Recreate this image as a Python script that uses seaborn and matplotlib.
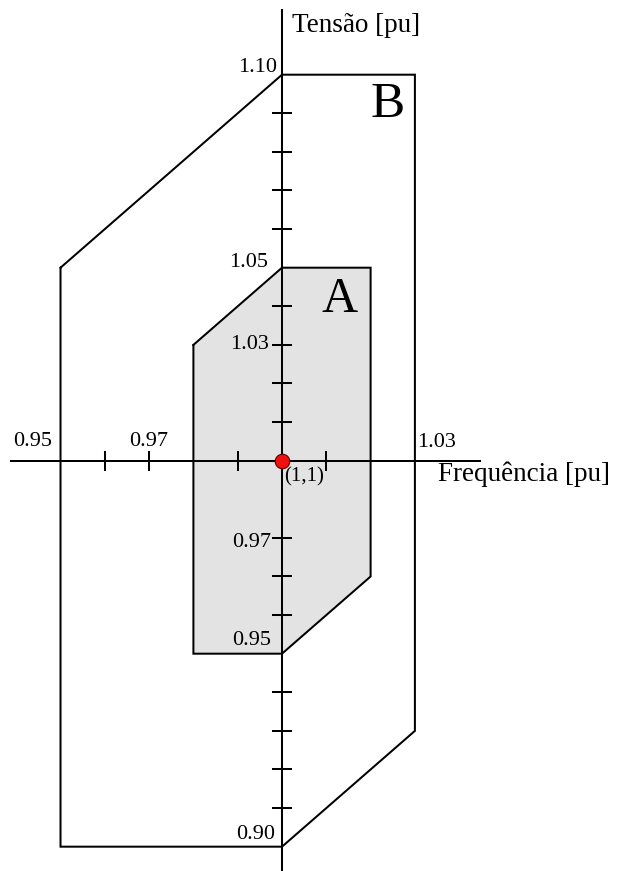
import matplotlib
matplotlib.use("Agg")
import matplotlib.pyplot as plt
import seaborn as sns

# Operating regions in the frequency-voltage plane (per unit)
region_a_freq = [0.98, 1.00, 1.02, 1.02, 1.00, 0.98, 0.98]
region_a_volt = [1.03, 1.05, 1.05, 0.97, 0.95, 0.95, 1.03]
region_b_freq = [0.95, 1.00, 1.03, 1.03, 1.00, 0.95, 0.95]
region_b_volt = [1.05, 1.10, 1.10, 0.93, 0.90, 0.90, 1.05]

# Nominal operating point
nominal_freq = [1.0]
nominal_volt = [1.0]

# Tick marks along each axis
freq_ticks = [0.96, 0.97, 0.99, 1.01]
volt_ticks = [0.91, 0.92, 0.93, 0.94, 0.96, 0.97, 0.98,
              1.01, 1.02, 1.03, 1.04, 1.06, 1.07, 1.08, 1.09]

# Value labels and where they sit
freq_label_text = ["0.95", "0.97", "1.03"]
freq_label_pos = [0.95, 0.97, 1.03]
volt_label_text = ["1.10", "1.05", "1.03", "0.97", "0.95", "0.90"]
volt_label_pos = [1.10, 1.05, 1.03, 0.98, 0.95, 0.90]

sns.set_theme(style="white")
plt.rcParams["font.family"] = ["Liberation Serif", "DejaVu Serif"]

LW = 1.45
fig = plt.figure(figsize=(6.2, 8.71), dpi=100)
ax = fig.add_axes([0, 0, 1, 1])
ax.set_facecolor("white")
ax.set_axisbelow(False)

# Region A (shaded) and region B (outline only)
ax.fill(region_a_freq, region_a_volt, color="#e3e3e3", zorder=0.8, lw=0)
sns.lineplot(x=region_a_freq, y=region_a_volt, sort=False, estimator=None,
             errorbar=None, color="black", lw=LW, ax=ax, zorder=3)
sns.lineplot(x=region_b_freq, y=region_b_volt, sort=False, estimator=None,
             errorbar=None, color="black", lw=LW, ax=ax, zorder=3)
for ln in ax.lines:
    ln.set_solid_joinstyle("miter")

sns.scatterplot(x=nominal_freq, y=nominal_volt, s=110, color="#f01010",
                edgecolor="#5a0000", linewidth=0.8, ax=ax, zorder=6)

ax.set_xlim(0.93634, 1.07630)
ax.set_ylim(0.89370, 1.11935)

# Axes crossing at the nominal point
for side in ("top", "right"):
    ax.spines[side].set_visible(False)
ax.spines["left"].set_position(("data", 1.0))
ax.spines["bottom"].set_position(("data", 1.0))
ax.spines["left"].set_bounds(0.89370, 1.11676)
ax.spines["bottom"].set_bounds(0.93883, 1.04470)
for side in ("left", "bottom"):
    ax.spines[side].set_color("black")
    ax.spines[side].set_linewidth(LW)
    ax.spines[side].set_zorder(2.5)

ax.set_xticks(freq_ticks)
ax.set_yticks(volt_ticks)
ax.tick_params(axis="both", which="major", direction="inout", length=14.4,
               width=LW, color="black", bottom=True, left=True,
               labelbottom=False, labelleft=False)
ax.xaxis.set_zorder(2.4)
ax.yaxis.set_zorder(2.4)
ax.grid(False)

num_size = 16
title_size = 19.5

# Voltage values, left of the vertical axis
volt_offsets = [(-5, 3), (-14, 1), (-13, -4), (-11, -9), (-11, 9), (-7, 8)]
for txt, pos, off in zip(volt_label_text, volt_label_pos, volt_offsets):
    ax.annotate(txt, xy=(1.0, pos), xytext=off, textcoords="offset pixels",
                ha="right", va="baseline", fontsize=num_size, color="black")

# Frequency values, above the horizontal axis
freq_align = ["right", "center", "left"]
freq_offsets = [(-8, 15), (0, 15), (2, 14)]
for txt, pos, ha, off in zip(freq_label_text, freq_label_pos, freq_align, freq_offsets):
    ax.annotate(txt, xy=(pos, 1.0), xytext=off, textcoords="offset pixels",
                ha=ha, va="baseline", fontsize=num_size, color="black")

# Axis titles
ax.annotate("Tensão [pu]", xy=(1.0, 1.11676), xytext=(10, -22),
            textcoords="offset pixels", ha="left", va="baseline",
            fontsize=title_size, color="black")
ax.annotate("Frequência [pu]", xy=(1.04470, 1.0), xytext=(-42, -20),
            textcoords="offset pixels", ha="left", va="baseline",
            fontsize=title_size, color="black")

# Nominal point label and region names
ax.annotate("(1,1)", xy=(1.0, 1.0), xytext=(2, -7), textcoords="offset pixels",
            ha="left", va="top", fontsize=15, color="black")
ax.annotate("A", xy=(1.02, 1.05), xytext=(-31, -44), textcoords="offset pixels",
            ha="center", va="baseline", fontsize=36, color="black")
ax.annotate("B", xy=(1.03, 1.10), xytext=(-27, -42), textcoords="offset pixels",
            ha="center", va="baseline", fontsize=37, color="black")

fig.savefig("out.png", dpi=100)
